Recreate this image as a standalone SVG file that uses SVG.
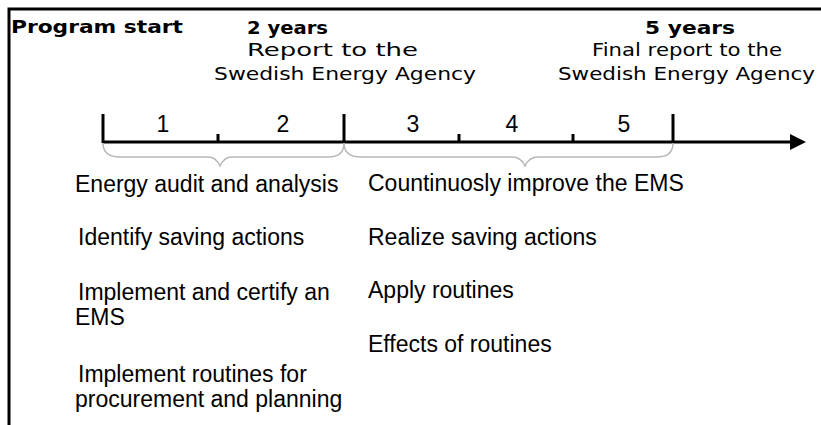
<svg xmlns="http://www.w3.org/2000/svg" width="821" height="425" viewBox="0 0 821 425">
  <style>
    .hd { font-family: "DejaVu Sans", Verdana, sans-serif; font-size: 18px; fill: #000; }
    .hb { font-weight: bold; }
    .bt { font-family: "Liberation Sans", Arial, sans-serif; font-size: 23px; fill: #000; }
    .num { font-family: "Liberation Sans", Arial, sans-serif; font-size: 23px; fill: #000; text-anchor: middle; }
    .ax { stroke: #000; stroke-width: 3; fill: none; }
    .br { stroke: #b8b8b8; stroke-width: 1.5; fill: none; }
  </style>
  <rect width="821" height="425" fill="#fff"/>
  <path d="M9,425 V9 H821" stroke="#000" stroke-width="3" fill="none"/>

  <g id="header-start">
    <text class="hd hb" x="11" y="33" textLength="172" lengthAdjust="spacingAndGlyphs">Program start</text>
  </g>
  <g id="header-2years">
    <text class="hd hb" x="247" y="34" textLength="81" lengthAdjust="spacingAndGlyphs">2 years</text>
    <text class="hd" x="247" y="56" textLength="171" lengthAdjust="spacingAndGlyphs">Report to the</text>
    <text class="hd" x="214" y="80" textLength="262" lengthAdjust="spacingAndGlyphs">Swedish Energy Agency</text>
  </g>
  <g id="header-5years">
    <text class="hd hb" x="645" y="34" textLength="90" lengthAdjust="spacingAndGlyphs">5 years</text>
    <text class="hd" x="592" y="56" textLength="190" lengthAdjust="spacingAndGlyphs">Final report to the</text>
    <text class="hd" x="558" y="80" textLength="257" lengthAdjust="spacingAndGlyphs">Swedish Energy Agency</text>
  </g>

  <g id="connectors">
    <g id="timeline">
      <line class="ax" x1="103" y1="142" x2="792" y2="142"/>
      <polygon points="790,134 806,142 790,150" fill="#000"/>
      <line class="ax" x1="103" y1="114" x2="103" y2="143"/>
      <line class="ax" x1="218" y1="134" x2="218" y2="142"/>
      <line class="ax" x1="344" y1="114" x2="344" y2="143"/>
      <line class="ax" x1="459" y1="134" x2="459" y2="142"/>
      <line class="ax" x1="573" y1="134" x2="573" y2="142"/>
      <line class="ax" x1="673" y1="114" x2="673" y2="143"/>
    </g>
    <path class="br" d="M103,143 Q103,157 120,157 L208,157 Q216,157 220,166 Q224,157 232,157 L328,157 Q344,157 344,143"/>
    <path class="br" d="M344,143 Q344,157 361,157 L512,157 Q521,157 525,166 Q529,157 538,157 L657,157 Q673,157 673,143"/>
  </g>

  <g id="year-numbers">
    <text class="num" x="163" y="132">1</text>
    <text class="num" x="283" y="132">2</text>
    <text class="num" x="413" y="132">3</text>
    <text class="num" x="512" y="132">4</text>
    <text class="num" x="624" y="132">5</text>
  </g>

  <g id="phase1">
    <text class="bt" x="75" y="192">Energy audit and analysis</text>
    <text class="bt" x="78" y="245">Identify saving actions</text>
    <text class="bt" x="78" y="300">Implement and certify an</text>
    <text class="bt" x="75" y="325">EMS</text>
    <text class="bt" x="78" y="382">Implement routines for</text>
    <text class="bt" x="75" y="407">procurement and planning</text>
  </g>
  <g id="phase2">
    <text class="bt" x="368" y="191">Countinuosly improve the EMS</text>
    <text class="bt" x="368" y="245">Realize saving actions</text>
    <text class="bt" x="368" y="298">Apply routines</text>
    <text class="bt" x="368" y="352">Effects of routines</text>
  </g>
</svg>
